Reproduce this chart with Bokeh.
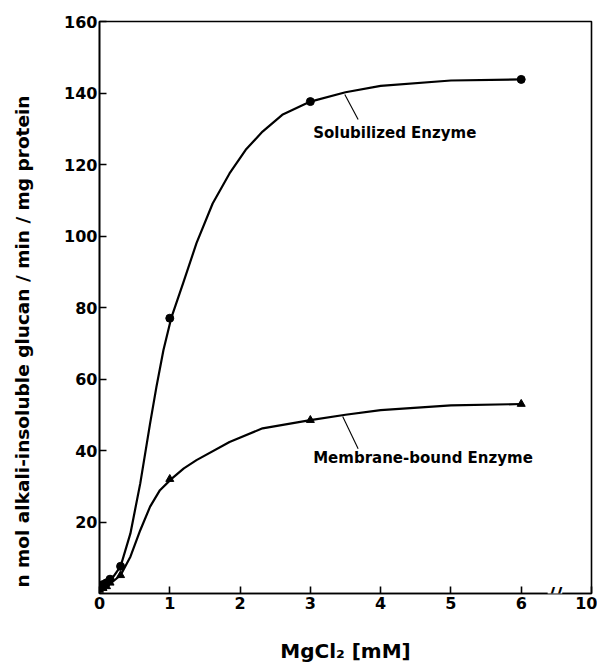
import math
from bokeh.plotting import figure
from bokeh.models import FixedTicker, Label, Range1d
from bokeh.core.properties import value
from bokeh.embed import file_html
from bokeh.resources import INLINE

# ---- data ----
x_tick_pos = [0, 1, 2, 3, 4, 5, 6, 7]
x_tick_labels = ["0", "1", "2", "3", "4", "5", "6", "10"]
y_ticks = [20, 40, 60, 80, 100, 120, 140, 160]

sol_x = [0, 0.05, 0.1, 0.15, 0.3, 1, 3, 6]
sol_y = [2, 2.5, 3, 4, 7.6, 77, 137.6, 143.8]
mem_x = [0, 0.05, 0.1, 0.15, 0.3, 1, 3, 6]
mem_y = [1, 1.5, 2, 3, 5.1, 32, 48.5, 53]

# points
sol_curve_x = [0, 0.1, 0.2, 0.3, 0.44, 0.58, 0.72, 0.81, 0.91, 1.02, 1.19, 1.38, 1.61, 1.85,
               2.08, 2.32, 2.6, 3.0, 3.5, 4.0, 5.0, 6.0]
sol_curve_y = [2, 3, 4.8, 7.6, 16.8, 30.8, 47.6, 57.8, 68.1, 77, 86.8, 98, 109.1, 117.5,
               124.1, 129.2, 133.9, 137.6, 140.2, 142, 143.5, 143.8]
mem_curve_x = [0, 0.1, 0.2, 0.3, 0.44, 0.58, 0.72, 0.86, 1.02, 1.2, 1.38, 1.85, 2.32, 3.0,
               3.5, 4.0, 5.0, 6.0]
mem_curve_y = [1, 2, 3.5, 5.1, 10.3, 17.7, 24.3, 28.9, 32, 35, 37.3, 42.4, 46.2, 48.5,
               50, 51.3, 52.6, 53]

FONT = "DejaVu Sans"

p = figure(width=597, height=670, output_backend="svg", toolbar_location=None,
           x_range=Range1d(0, 7), y_range=Range1d(0, 160),
           min_border_left=99, min_border_right=6, min_border_top=21, min_border_bottom=77)
p.background_fill_color = "white"
p.border_fill_color = "white"
p.grid.visible = False
p.outline_line_color = "black"
p.outline_line_width = 1.6

# axes
for ax in (p.xaxis, p.yaxis):
    ax.axis_line_width = 1.6
    ax.axis_line_color = "black"
    ax.major_tick_in = 7
    ax.major_tick_out = 0
    ax.major_tick_line_width = 1.6
    ax.minor_tick_line_color = None
    ax.major_label_text_font = FONT
    ax.major_label_text_font_style = "bold"
    ax.major_label_text_font_size = "16px"
    ax.major_label_text_color = "black"

p.xaxis.ticker = FixedTicker(ticks=x_tick_pos)
p.xaxis.major_label_overrides = {t: l for t, l in zip(x_tick_pos, x_tick_labels)}
p.xaxis.major_label_standoff = 3
p.xaxis.axis_label = "MgCl₂ [mM]"
p.xaxis.axis_label_text_font = FONT
p.xaxis.axis_label_text_font_style = "bold"
p.xaxis.axis_label_text_font_size = "20px"
p.xaxis.axis_label_text_color = "black"
p.xaxis.axis_label_standoff = 27

p.yaxis.ticker = FixedTicker(ticks=y_ticks)
p.yaxis.major_label_standoff = 2

# y-axis title in the left side panel (sits lower than the frame centre)
p.add_layout(Label(x=-18, y=252, x_units="screen", y_units="screen",
                   text="n mol alkali-insoluble glucan / min / mg protein",
                   angle=math.pi / 2, text_align="center", text_baseline="middle",
                   text_font=FONT, text_font_style="bold", text_font_size="18.5px",
                   text_color="black"), "left")

# curves
p.line(sol_curve_x, sol_curve_y, line_color="black", line_width=2.2, line_join="round")
p.line(mem_curve_x, mem_curve_y, line_color="black", line_width=2.2, line_join="round")
p.scatter(sol_x, sol_y, marker="circle", size=8, fill_color="black", line_color="black")
p.scatter(mem_x, mem_y, marker="triangle", size=8, fill_color="black", line_color="black")

# annotation leaders
p.segment(x0=[3.49, 3.46], y0=[139.6, 49.5], x1=[3.68, 3.68], y1=[132.6, 40.5],
          line_color="black", line_width=1.1)
p.text(x=[3.04, 3.04], y=[128.9, 38.0], text=["Solubilized Enzyme", "Membrane-bound Enzyme"],
       text_font=value(FONT), text_font_style="bold", text_font_size="15px",
       text_align="left", text_baseline="middle", text_color="black")

# axis break
p.add_layout(Label(x=6.48, y=0, text="//", text_align="center", text_baseline="middle",
                   text_font=FONT, text_font_style="bold", text_font_size="20px",
                   text_color="black", background_fill_color="white"))

open("out.html", "w").write(file_html(p, INLINE))
